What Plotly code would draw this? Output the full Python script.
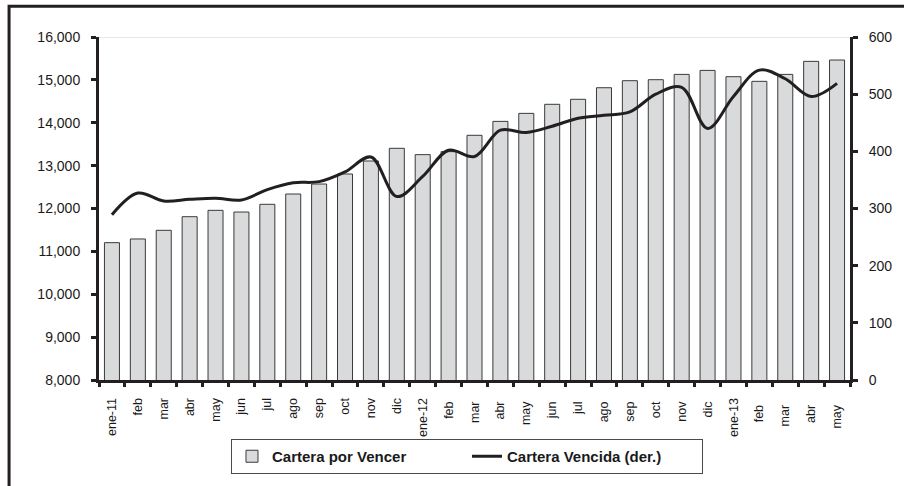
import plotly.graph_objects as go

categories = ["ene-11", "feb", "mar", "abr", "may", "jun", "jul", "ago", "sep", "oct", "nov", "dic",
              "ene-12", "feb ", "mar ", "abr ", "may ", "jun ", "jul ", "ago ", "sep ", "oct ", "nov ", "dic ",
              "ene-13", "feb  ", "mar  ", "abr  ", "may  "]

cartera_por_vencer = [11203, 11289, 11491, 11809, 11957, 11918, 12098, 12338, 12571, 12805, 13108, 13404,
                      13256, 13326, 13707, 14032, 14219, 14430, 14547, 14817, 14981, 15004, 15128, 15221,
                      15074, 14966, 15128, 15432, 15463]

cartera_vencida = [289, 327, 313, 316, 318, 315, 333, 345, 347, 364, 390, 321,
                   356, 402, 391, 437, 433, 444, 458, 463, 469, 500, 512, 440,
                   496, 542, 527, 496, 519]

left_ticks = [8000, 9000, 10000, 11000, 12000, 13000, 14000, 15000, 16000]
right_ticks = [0, 100, 200, 300, 400, 500, 600]

FONT = "Liberation Sans, Arial, sans-serif"

fig = go.Figure()
fig.add_trace(go.Bar(
    x=categories, y=cartera_por_vencer, name="Cartera por Vencer",
    marker=dict(color="#d9dadc", line=dict(color="#3a3a3a", width=1)),
    yaxis="y",
))
fig.add_trace(go.Scatter(
    x=categories, y=cartera_vencida, name="Cartera Vencida (der.)",
    mode="lines", line=dict(color="#231f20", width=3, shape="spline", smoothing=1.0),
    yaxis="y2",
))

fig.update_layout(
    width=904, height=486,
    margin=dict(l=99, r=51, t=37, b=106),
    paper_bgcolor="white", plot_bgcolor="white",
    bargap=0.42,
    font=dict(family=FONT, color="#1a1a1a"),
    showlegend=True,
    legend=dict(
        orientation="h", x=0.49, xanchor="center", y=-0.172, yanchor="top",
        bordercolor="#4a4a4a", borderwidth=1, bgcolor="white",
        font=dict(family=FONT, size=15, color="#1a1a1a", weight="bold"),
        itemwidth=30, tracegroupgap=0, entrywidth=190,
    ),
    xaxis=dict(
        type="category", tickangle=-90, tickson="boundaries",
        ticks="outside", ticklen=4, tickwidth=3, tickcolor="#231f20",
        showline=True, linecolor="#231f20", linewidth=3,
        showgrid=False, zeroline=False, ticklabelstandoff=10,
        tickfont=dict(family=FONT, size=12.5, color="#1a1a1a"),
    ),
    yaxis=dict(
        range=[8000, 16000], tickvals=left_ticks, tickformat=",d",
        ticks="outside", ticklen=5, tickwidth=3, tickcolor="#231f20",
        showline=True, linecolor="#231f20", linewidth=3,
        showgrid=False, zeroline=False, ticklabelstandoff=8,
        tickfont=dict(family=FONT, size=14, color="#1a1a1a"),
    ),
    yaxis2=dict(
        range=[0, 600], tickvals=right_ticks, overlaying="y", side="right",
        ticks="outside", ticklen=5, tickwidth=3, tickcolor="#231f20",
        showline=True, linecolor="#231f20", linewidth=3,
        showgrid=False, zeroline=False, ticklabelstandoff=8,
        tickfont=dict(family=FONT, size=14, color="#1a1a1a"),
    ),
    shapes=[
        dict(type="line", xref="paper", yref="y", x0=0, x1=1, y0=16000, y1=16000,
             line=dict(color="#d0d0d0", width=1), layer="below"),
        dict(type="rect", xref="paper", yref="paper",
             x0=(8.7 - 99) / 754, x1=1.2, y0=1 + (37 - 6.2) / 343, y1=-0.6,
             line=dict(color="#231f20", width=3), layer="below"),
    ],
)

fig.write_html("out.html", config={"displayModeBar": False},
               post_script="document.body.style.margin='0';")
